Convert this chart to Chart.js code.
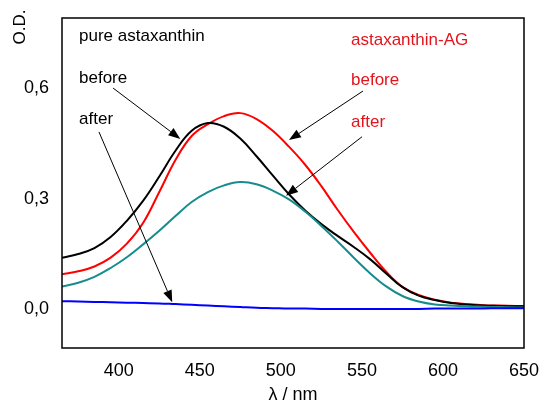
<!DOCTYPE html>
<html>
<head>
<meta charset="utf-8">
<script src="https://cdn.jsdelivr.net/npm/chart.js@4.4.0/dist/chart.umd.min.js"></script>
<style>
  html, body { margin: 0; padding: 0; background: #fff; }
  #wrap { width: 545px; height: 406px; }
</style>
</head>
<body>
<div id="wrap"><canvas id="c" width="545" height="406"></canvas></div>
<script>
// ---- data ----
const wavelengths = [365, 375, 385, 395, 405, 415, 425, 435, 445, 455, 465, 475, 485, 495, 505, 515, 525, 535, 545, 555, 565, 575, 585, 595, 605, 615, 625, 635, 645, 650];
const pureBefore  = [0.140, 0.150, 0.166, 0.196, 0.240, 0.294, 0.360, 0.430, 0.484, 0.505, 0.495, 0.463, 0.415, 0.363, 0.312, 0.268, 0.231, 0.199, 0.169, 0.136, 0.097, 0.060, 0.037, 0.025, 0.017, 0.013, 0.010, 0.009, 0.008, 0.008];
const agBefore    = [0.095, 0.103, 0.116, 0.140, 0.178, 0.234, 0.318, 0.405, 0.470, 0.502, 0.524, 0.532, 0.516, 0.484, 0.441, 0.392, 0.334, 0.270, 0.210, 0.154, 0.102, 0.061, 0.039, 0.026, 0.018, 0.014, 0.011, 0.010, 0.009, 0.009];
const agAfter     = [0.062, 0.072, 0.088, 0.112, 0.141, 0.176, 0.213, 0.253, 0.291, 0.318, 0.336, 0.345, 0.339, 0.322, 0.298, 0.265, 0.226, 0.184, 0.140, 0.098, 0.062, 0.036, 0.021, 0.013, 0.010, 0.008, 0.007, 0.006, 0.005, 0.005];
const pureAfter   = [0.022, 0.021, 0.020, 0.019, 0.018, 0.017, 0.016, 0.014, 0.012, 0.010, 0.008, 0.006, 0.004, 0.003, 0.002, 0.002, 0.001, 0.001, 0.001, 0.001, 0.001, 0.001, 0.001, 0.002, 0.002, 0.002, 0.002, 0.003, 0.003, 0.003];
const xTicks = [400, 450, 500, 550, 600, 650];
const yTicks = [0.0, 0.3, 0.6];

// annotation texts and anchors (data coordinates)
const blackLabels = [
  { text: 'pure astaxanthin', x: 375.5, y: 0.741 },
  { text: 'before', x: 375.5, y: 0.627 },
  { text: 'after', x: 375.5, y: 0.514 }
];
const redLabels = [
  { text: 'astaxanthin-AG', x: 543.3, y: 0.730 },
  { text: 'before', x: 543.3, y: 0.622 },
  { text: 'after', x: 543.3, y: 0.508 }
];
const arrows = [
  { from: [396.5, 0.600], to: [438.0, 0.462] },
  { from: [387.8, 0.481], to: [433.0, 0.019] },
  { from: [550.7, 0.592], to: [505.0, 0.459] },
  { from: [550.1, 0.468], to: [503.2, 0.308] }
];

const toPts = (ys) => wavelengths.map((w, i) => ({ x: w, y: ys[i] }));
const FONT = "'Liberation Sans', Arial, Helvetica, sans-serif";

const overlay = {
  id: 'overlay',
  afterDatasetsDraw(chart) {
    const { ctx, scales: { x, y } } = chart;
    ctx.save();
    ctx.textBaseline = 'middle';
    ctx.textAlign = 'left';
    ctx.font = '17px ' + FONT;
    ctx.fillStyle = '#000';
    blackLabels.forEach(l => ctx.fillText(l.text, x.getPixelForValue(l.x), y.getPixelForValue(l.y)));
    ctx.fillStyle = '#e3141c';
    redLabels.forEach(l => ctx.fillText(l.text, x.getPixelForValue(l.x), y.getPixelForValue(l.y)));
    // arrows
    ctx.strokeStyle = '#000';
    ctx.fillStyle = '#000';
    ctx.lineWidth = 1;
    arrows.forEach(a => {
      const x1 = x.getPixelForValue(a.from[0]), y1 = y.getPixelForValue(a.from[1]);
      const x2 = x.getPixelForValue(a.to[0]), y2 = y.getPixelForValue(a.to[1]);
      const ang = Math.atan2(y2 - y1, x2 - x1);
      const hl = 12, hw = 4.5;
      const bx = x2 - hl * Math.cos(ang), by = y2 - hl * Math.sin(ang);
      ctx.beginPath();
      ctx.moveTo(x1, y1);
      ctx.lineTo(bx, by);
      ctx.stroke();
      ctx.beginPath();
      ctx.moveTo(x2, y2);
      ctx.lineTo(bx + hw * Math.sin(ang), by - hw * Math.cos(ang));
      ctx.lineTo(bx - hw * Math.sin(ang), by + hw * Math.cos(ang));
      ctx.closePath();
      ctx.fill();
    });
    ctx.restore();
  },
  afterDraw(chart) {
    const { ctx, chartArea: a } = chart;
    ctx.save();
    ctx.strokeStyle = '#000';
    ctx.lineWidth = 1.5;
    ctx.strokeRect(a.left, a.top, a.right - a.left, a.bottom - a.top);
    ctx.fillStyle = '#000';
    ctx.font = '18px ' + FONT;
    ctx.textAlign = 'center';
    ctx.textBaseline = 'middle';
    ctx.fillText('λ / nm', (a.left + a.right) / 2, 395);
    ctx.translate(20, 27);
    ctx.rotate(-Math.PI / 2);
    ctx.font = '17px ' + FONT;
    ctx.fillText('O.D.', 0, 0);
    ctx.restore();
  }
};

const ds = (label, data, color) => ({
  label, data: toPts(data), borderColor: color, backgroundColor: color,
  borderWidth: 2, pointRadius: 0, fill: false, tension: 0.4
});

const zeroPad = s => { s.paddingLeft = 0; s.paddingRight = 0; s.paddingTop = 0; s.paddingBottom = 0; };

new Chart(document.getElementById('c'), {
  type: 'line',
  data: {
    datasets: [
      ds('pure astaxanthin after', pureAfter, '#0000ff'),
      ds('astaxanthin-AG after', agAfter, '#178c8c'),
      ds('pure astaxanthin before', pureBefore, '#000000'),
      ds('astaxanthin-AG before', agBefore, '#ff0000')
    ]
  },
  options: {
    responsive: false,
    animation: false,
    devicePixelRatio: 1,
    layout: { padding: { top: 18, right: 21, left: 0, bottom: 0 } },
    plugins: { legend: { display: false }, tooltip: { enabled: false } },
    scales: {
      x: {
        type: 'linear', min: 365, max: 650,
        afterFit: s => { s.height = 58; zeroPad(s); },
        afterBuildTicks: s => { s.ticks = xTicks.map(v => ({ value: v })); },
        grid: { display: false, drawTicks: false },
        border: { display: false },
        ticks: { font: { family: FONT, size: 18 }, color: '#000', padding: 12, maxRotation: 0,
                 callback: v => String(v) }
      },
      y: {
        type: 'linear', min: -0.105, max: 0.79,
        afterFit: s => { s.width = 62; zeroPad(s); },
        afterBuildTicks: s => { s.ticks = yTicks.map(v => ({ value: v })); },
        grid: { display: false, drawTicks: false },
        border: { display: false },
        ticks: { font: { family: FONT, size: 18 }, color: '#000', padding: 13,
                 callback: v => Number(v).toFixed(1).replace('.', ',') }
      }
    }
  },
  plugins: [overlay]
});
</script>
</body>
</html>
